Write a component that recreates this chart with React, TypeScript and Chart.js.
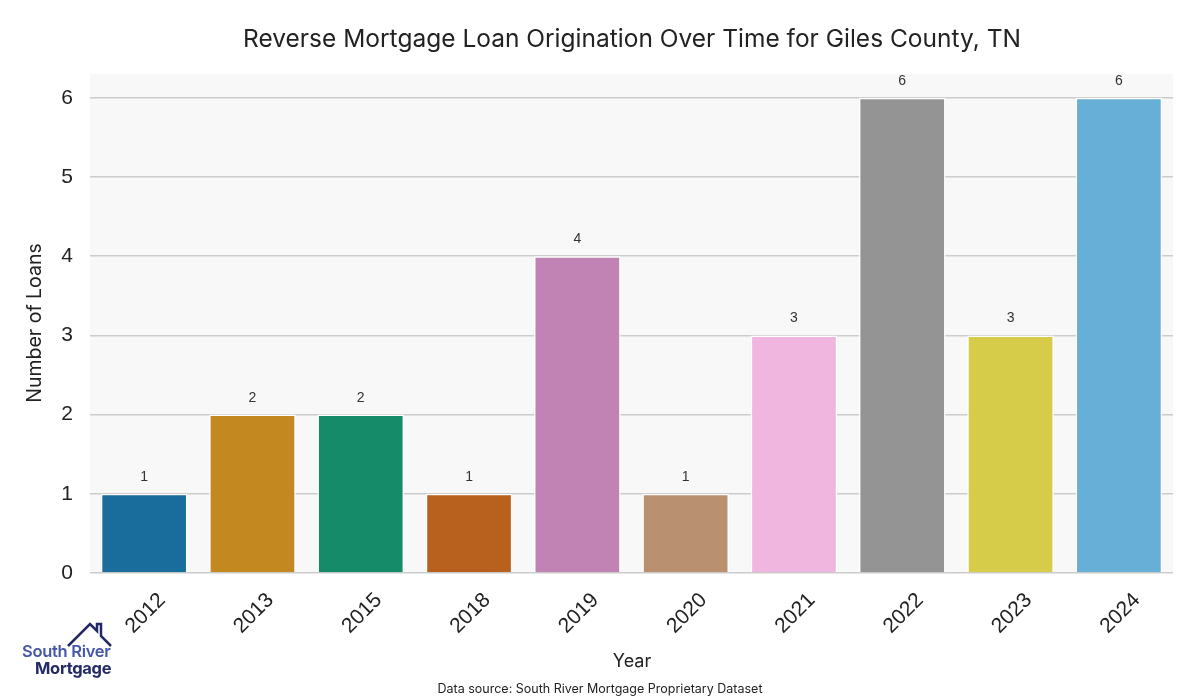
import React, { useEffect, useRef } from "react";
import { Chart, registerables } from "chart.js";

Chart.register(...registerables);

const years = ["2012", "2013", "2015", "2018", "2019", "2020", "2021", "2022", "2023", "2024"];
const loans = [1, 2, 2, 1, 4, 1, 3, 6, 3, 6];
const barColors = [
  "#186d9c", "#c38820", "#168b69", "#b8611f", "#c182b4",
  "#ba9170", "#f1b6e0", "#949494", "#d7cc49", "#68afd7",
];
const yTicks = [0, 1, 2, 3, 4, 5, 6];
const titleText = "Reverse Mortgage Loan Origination Over Time for Giles County, TN";
const yTitle = "Number of Loans";
const xTitle = "Year";
const sourceText = "Data source: South River Mortgage Proprietary Dataset";

const UI_FONT = "Inter, 'Open Sans', sans-serif";

const decorPlugin = {
  id: "decor",
  beforeDraw(chart: any) {
    const { ctx, chartArea } = chart;
    ctx.save();
    ctx.fillStyle = "#f8f8f8";
    ctx.fillRect(chartArea.left, chartArea.top, chartArea.right - chartArea.left, chartArea.bottom - chartArea.top);
    ctx.restore();
  },
  afterDraw(chart: any) {
    const { ctx } = chart;
    ctx.save();
    ctx.fillStyle = "#222";
    ctx.textAlign = "center";
    ctx.textBaseline = "middle";
    ctx.font = `24.5px ${UI_FONT}`;
    ctx.fillText(titleText, 632, 40);
    ctx.font = `18px ${UI_FONT}`;
    ctx.fillText(xTitle, 632, 662);
    ctx.save();
    ctx.translate(35, 323);
    ctx.rotate(-Math.PI / 2);
    ctx.font = `19.5px ${UI_FONT}`;
    ctx.fillText(yTitle, 0, 0);
    ctx.restore();
    ctx.font = `12.5px ${UI_FONT}`;
    ctx.fillText(sourceText, 600, 689);
    const meta = chart.getDatasetMeta(0);
    ctx.font = "14px 'Liberation Sans', Arial, sans-serif";
    ctx.fillStyle = "#333";
    ctx.textBaseline = "alphabetic";
    meta.data.forEach((bar: any, i: number) => {
      ctx.fillText(String(loans[i]), bar.x, bar.y - 13);
    });
    ctx.restore();
  },
};

function Logo() {
  return (
    <div style={{ position: "absolute", left: 22, top: 622, width: 100, height: 60, fontFamily: "Inter, 'Open Sans', sans-serif" }}>
      <svg width="100" height="30" style={{ position: "absolute", left: 0, top: 0 }}>
        <polyline points="46,24 68,2 75,9 75,2 79,2 79,14 89,24" fill="none" stroke="#232a66" strokeWidth="2.5" />
      </svg>
      <div style={{ position: "absolute", left: 0, top: 20, fontSize: 16.5, fontWeight: 600, color: "#4457a8", lineHeight: "18px", whiteSpace: "nowrap", letterSpacing: -0.3 }}>South River</div>
      <div style={{ position: "absolute", left: 13, top: 37, fontSize: 16.5, fontWeight: 700, color: "#232a66", lineHeight: "18px", whiteSpace: "nowrap", letterSpacing: -0.3 }}>Mortgage</div>
    </div>
  );
}

export default function App() {
  const canvasRef = useRef<HTMLCanvasElement | null>(null);

  useEffect(() => {
    document.body.style.margin = "0";
    const canvas = canvasRef.current;
    if (!canvas) return;
    const chart = new Chart(canvas, {
      type: "bar",
      data: {
        labels: years,
        datasets: [
          {
            data: loans,
            backgroundColor: barColors,
            borderColor: "#ffffff",
            borderWidth: 1.5,
            barPercentage: 0.8,
            categoryPercentage: 1,
          },
        ],
      },
      options: {
        animation: false,
        responsive: false,
        maintainAspectRatio: false,
        layout: { padding: { top: 74, left: 0, right: 27, bottom: 0 } },
        plugins: {
          legend: { display: false },
          tooltip: { enabled: false },
          title: { display: false },
        },
        scales: {
          x: {
            offset: true,
            grid: { display: false, drawTicks: false },
            border: { display: false },
            ticks: {
              color: "#222",
              font: { size: 21, family: "'Liberation Sans', Arial, sans-serif" },
              maxRotation: 45,
              minRotation: 45,
              padding: 15,
              labelOffset: 18,
            },
            afterFit(scale: any) {
              scale.height = 127;
            },
          },
          y: {
            min: 0,
            max: 6.3,
            afterBuildTicks(scale: any) {
              scale.ticks = yTicks.map((v) => ({ value: v }));
            },
            grid: { color: "#cccccc", lineWidth: 1.5, drawTicks: false },
            border: { display: false },
            ticks: {
              color: "#222",
              font: { size: 21, family: "'Liberation Sans', Arial, sans-serif" },
              padding: 17,
            },
            afterFit(scale: any) {
              scale.width = 90;
            },
          },
        },
      },
      plugins: [decorPlugin],
    });
    return () => chart.destroy();
  }, []);

  return (
    <div style={{ position: "relative", width: 1200, height: 700, background: "#fff" }}>
      <canvas ref={canvasRef} width={1200} height={700} style={{ display: "block" }} />
      <Logo />
    </div>
  );
}
